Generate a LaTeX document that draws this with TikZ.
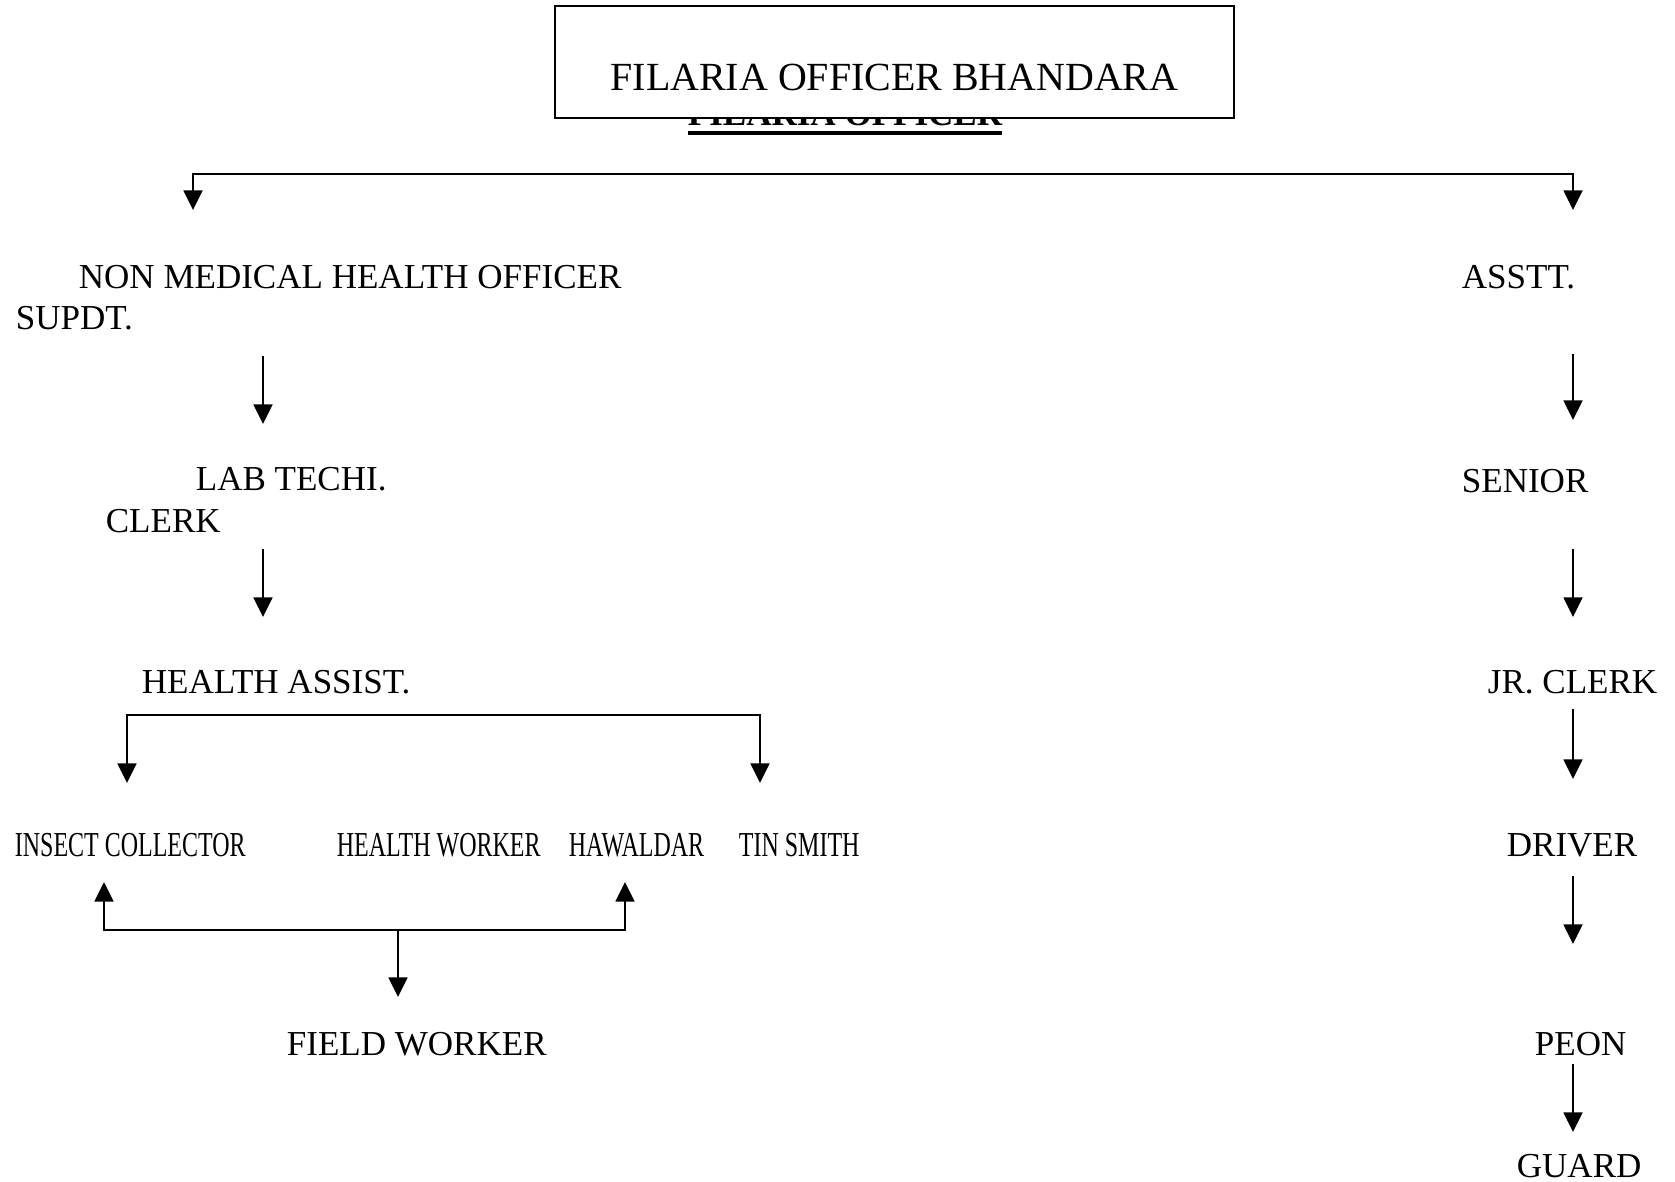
\documentclass[tikz,border=0pt]{standalone}
\usepackage{fontspec}
\setmainfont{Liberation Serif}
\newfontfamily\narrowserif[FakeStretch=0.685]{Liberation Serif}
\usepackage{tikz}
\usetikzlibrary{calc}
\usetikzlibrary{arrows.meta}
\newcommand{\PostSize}{\fontsize{9.96pt}{12pt}\selectfont}
\newcommand{\HeadSize}{\fontsize{11.35pt}{13pt}\selectfont}
\newcommand{\ThickUl}[1]{\setbox0\hbox{#1}\rlap{\rule[-2.5pt]{\wd0}{1.1pt}}\box0}

\begin{document}
\begin{tikzpicture}[x=0.01cm,y=-0.01cm,line width=0.5pt,
    >={Triangle[length=5.6pt,width=5.4pt]},
    post/.style={inner sep=0pt,anchor=base west,font=\PostSize},
    narrowpost/.style={post,font=\PostSize\narrowserif}]

      \useasboundingbox (0,0) rectangle (1675,1182);

      % head
      \node[post,font=\PostSize\bfseries] (headold) at (687,126) {\ThickUl{FILARIA OFFICER}};
      \node[draw,fill=white,inner sep=0pt,text height=0.85cm,text depth=0.27cm,
            minimum width=6.79cm,anchor=base,font=\HeadSize] (head) at (894.5,91) {FILARIA OFFICER BHANDARA};

      \coordinate (topL) at (193,210);
      \coordinate (topR) at (1573,210);
      \coordinate (lcol) at (263,0);
      \coordinate (rcol) at (1573,0);

      % left side
      \node[post] (nmho) at (78,289) {NON MEDICAL HEALTH OFFICER};
      \node[post] (supdt) at (15,330) {SUPDT.};
      \node[post] (labt) at (195,491) {LAB TECHI.};
      \node[post] (clerk) at (105,532) {CLERK};
      \node[post] (hassist) at (141,693) {HEALTH ASSIST.};
      \node[narrowpost] (insect) at (14,856) {INSECT COLLECTOR};
      \node[narrowpost] (hworker) at (336,856) {HEALTH WORKER};
      \node[narrowpost] (hawaldar) at (568,856) {HAWALDAR};
      \node[narrowpost] (tinsmith) at (738,856) {TIN SMITH};
      \node[post] (field) at (286,1055) {FIELD WORKER};

      % right side
      \node[post] (asstt) at (1461,289) {ASSTT.};
      \node[post] (senior) at (1461,492) {SENIOR};
      \node[post] (jrclerk) at (1487,693) {JR. CLERK};
      \node[post] (driver) at (1506,856) {DRIVER};
      \node[post] (peon) at (1534,1055) {PEON};
      \node[post] (guard) at (1516,1177) {GUARD};

      \draw[<->] (topL) -- ++(0,-36) -| (topR);

      \draw[->] ($(lcol |- supdt.base)+(0,26)$) -- ($(lcol |- labt.base)+(0,-67)$);
      \draw[->] ($(lcol |- clerk.base)+(0,17)$) -- ($(lcol |- hassist.base)+(0,-76)$);
      \draw[<->] ($(insect.base west)+(113,-73)$) |- ($(hassist.base)+(0,22)$) -| ($(tinsmith.base west)+(22,-73)$);
      \draw[<->] ($(insect.base west)+(90,26)$) |- ($(field.base west)+(112,-125)$) -| ($(hawaldar.base west)+(57,26)$);
      \draw[->] ($(field.base west)+(112,-125)$) -- ($(field.base west)+(112,-58)$);

      \draw[->] ($(rcol |- asstt.base)+(0,65)$) -- ($(rcol |- senior.base)+(0,-72)$);
      \draw[->] ($(rcol |- senior.base)+(0,57)$) -- ($(rcol |- jrclerk.base)+(0,-76)$);
      \draw[->] ($(rcol |- jrclerk.base)+(0,16)$) -- ($(rcol |- driver.base)+(0,-77)$);
      \draw[->] ($(rcol |- driver.base)+(0,20)$) -- ($(rcol |- peon.base)+(0,-111)$);
      \draw[->] ($(rcol |- peon.base)+(0,9)$) -- ($(rcol |- guard.base)+(0,-45)$);
\end{tikzpicture}
\end{document}
